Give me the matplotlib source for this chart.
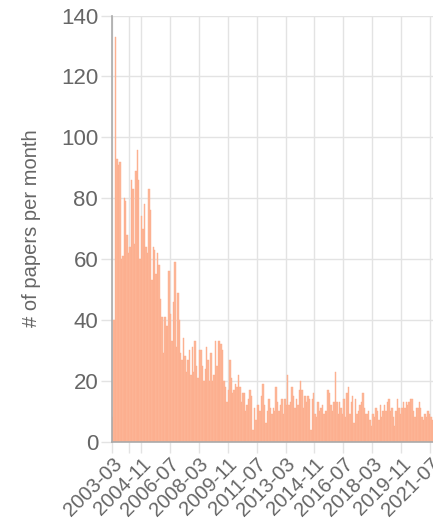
import matplotlib
matplotlib.use("Agg")
import matplotlib.pyplot as plt
import numpy as np

plt.rcParams['font.family'] = ['Liberation Sans', 'DejaVu Sans']

start_year, start_month = 2003, 3
counts = [
    8, 40, 133, 93, 91, 92, 60, 61, 80, 79, 68, 62, 64, 86, 83, 65, 89, 96, 86, 60,
    74, 70, 78, 64, 62, 83, 76, 53, 64, 63, 55, 62, 58, 47, 41, 29, 41,
    38, 38, 56, 42, 33, 46, 59, 31, 49, 40, 29, 27, 34, 28, 23, 27, 30, 22, 31,
    23, 33, 25, 21, 30, 30, 25, 20, 24, 31, 27, 20, 29, 20, 22, 33, 25, 33,
    33, 32, 30, 20, 18, 13, 17, 27, 21, 16, 17, 19, 18, 22, 18, 13, 16, 16, 10, 12,
    14, 17, 15, 4, 11, 7, 12, 12, 10, 15, 19, 12, 6, 10, 14, 11, 9,
    11, 10, 18, 13, 10, 12, 14, 9, 14, 12, 22, 12, 13, 18, 15, 11, 14, 12, 17, 20,
    17, 11, 15, 13, 15, 14, 4, 14, 16, 9, 8, 13, 10, 11, 12, 9, 10,
    10, 17, 16, 12, 10, 13, 23, 13, 9, 13, 11, 9, 14, 8, 16, 18, 9, 13, 15, 6,
    14, 9, 10, 12, 13, 16, 11, 9, 9, 10, 7, 5, 9, 8, 11, 10, 7, 12,
    8, 10, 12, 10, 13, 14, 10, 11, 8, 5, 10, 14, 11, 9, 11, 13, 11, 13, 12, 13,
    14, 14, 10, 8, 11, 11, 13, 11, 8, 7, 9, 8, 10, 9, 8, 7,
]
label_step = 20
y_ticks = [0, 20, 40, 60, 80, 100, 120, 140]

n = len(counts)
months = []
for i in range(n):
    m = start_month - 1 + i
    months.append(f"{start_year + m // 12}-{m % 12 + 1:02d}")

fig = plt.figure(figsize=(4.33, 5.20), dpi=100)
ax = fig.add_axes([0.2587, 0.1506, 0.7413, 0.8194])

x = np.arange(n) + 0.5
ax.bar(x, counts, width=1.0, color='#FDB799', edgecolor='#FCAA88', linewidth=0.3, zorder=2)

tick_idx = list(range(0, n, label_step))
ax.set_xticks(tick_idx)
ax.set_xticklabels([months[i] for i in tick_idx], rotation=45, ha='right', va='top',
                   rotation_mode='anchor', fontsize=14.5, color='#666666')
ax.set_xticks([12], minor=True)
ax.set_xlim(0, n)

ax.set_ylim(0, 140)
ax.set_yticks(y_ticks)
ax.set_yticklabels([str(v) for v in y_ticks], fontsize=16, color='#666666')
ax.set_ylabel('# of papers per month', fontsize=14.5, color='#666666', labelpad=14)

ax.grid(True, which='both', color='#E3E3E3', linewidth=1.0, zorder=0)
ax.set_axisbelow(True)
ax.tick_params(axis='both', which='both', color='#E3E3E3', length=8, width=1.0)
ax.tick_params(axis='y', pad=2)
ax.tick_params(axis='x', pad=1)
for s in ['top', 'right']:
    ax.spines[s].set_visible(False)
for s in ['left', 'bottom']:
    ax.spines[s].set_color('#AAAAAA')
    ax.spines[s].set_linewidth(1.2)

fig.savefig('out.png', dpi=100)
